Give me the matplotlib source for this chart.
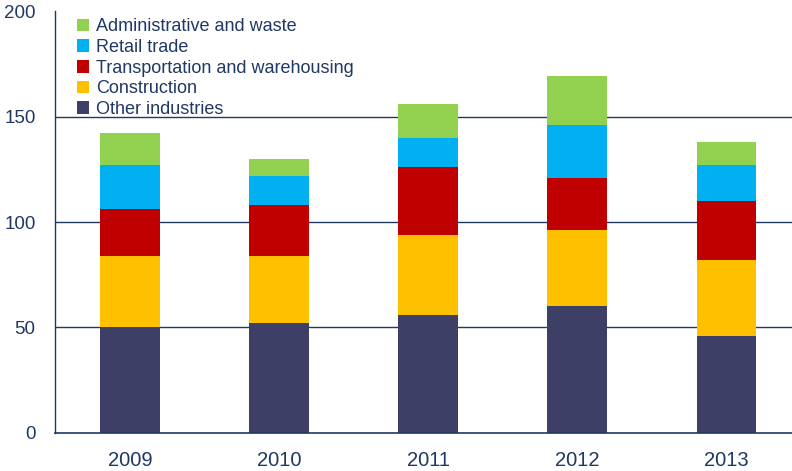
import matplotlib

matplotlib.use("Agg")
import matplotlib.pyplot as plt
import numpy as np

# Stacked jobs by industry, 2009-2013
years = ["2009", "2010", "2011", "2012", "2013"]
other = [50, 52, 56, 60, 46]
construction = [34, 32, 38, 36, 36]
transport = [22, 24, 32, 25, 28]
retail = [21, 14, 14, 25, 17]
admin = [15, 8, 16, 23, 11]

series = [
    ("Other industries", other, "#3d3f66"),
    ("Construction", construction, "#ffc000"),
    ("Transportation and warehousing", transport, "#c00000"),
    ("Retail trade", retail, "#00b0f0"),
    ("Administrative and waste", admin, "#92d050"),
]

navy = "#1f3864"
plt.rcParams["font.family"] = ["Liberation Sans", "DejaVu Sans"]

fig = plt.figure(figsize=(7.92, 4.71), dpi=100)
ax = fig.add_axes([0.0694, 0.0807, 0.9306, 0.8959])

x = np.arange(len(years))
bottom = np.zeros(len(years))
handles = []
for name, vals, color in series:
    b = ax.bar(x, vals, width=0.4, bottom=bottom, color=color, label=name, zorder=2)
    handles.append(b)
    bottom += np.array(vals)

ax.set_ylim(0, 200)
ax.set_xlim(-0.503, 4.44)
ax.set_yticks([0, 50, 100, 150, 200])
ax.set_xticks(x)
ax.set_xticklabels(years, fontsize=14.5)
ax.tick_params(axis="both", length=0, colors=navy)
ax.tick_params(axis="y", pad=14, labelsize=13.5)
ax.tick_params(axis="x", pad=13)

for v in [50, 100, 150]:
    ax.axhline(v, color=navy, linewidth=1, zorder=1)

for side in ["top", "right"]:
    ax.spines[side].set_visible(False)
ax.spines["left"].set_color(navy)
ax.spines["bottom"].set_color(navy)
ax.spines["left"].set_linewidth(1)
ax.spines["bottom"].set_linewidth(1.2)

leg = ax.legend(handles[::-1], [s[0] for s in series][::-1], loc="upper left",
                bbox_to_anchor=(0.015, 1.008), frameon=False, fontsize=13,
                handlelength=0.7, handleheight=0.7, handletextpad=0.35,
                labelspacing=0.2, borderaxespad=0.2)
for t in leg.get_texts():
    t.set_color(navy)

fig.savefig("out.png", dpi=100)
